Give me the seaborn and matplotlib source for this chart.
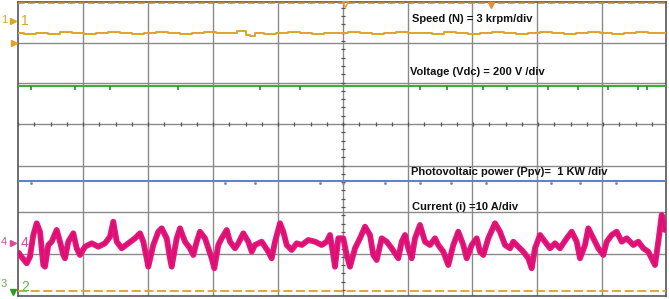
import numpy as np
import pandas as pd
import matplotlib
matplotlib.use("Agg")
import matplotlib.pyplot as plt
import seaborn as sns

# ---- screen readings (x, y in screen pixels of the scope display) ----
grid_x = [18, 83, 148, 213, 278, 343, 408, 472, 537, 602, 666]
grid_y = [2, 43, 83, 124, 166, 212, 254, 296]

speed_x = [18, 30, 42, 54, 66, 78, 90, 102, 114, 126, 138, 150, 162, 174, 186, 198, 210, 222, 234, 240,
           244, 248, 252, 258, 270, 282, 294, 306, 318, 330, 342, 354, 366, 378, 390, 402, 414, 426, 438, 450,
           462, 474, 486, 498, 510, 522, 534, 546, 558, 570, 582, 594, 606, 618, 630, 642, 654, 666]
speed_y = [33, 34, 33, 34, 32, 33, 34, 33, 32, 33, 34, 33, 32, 33, 34, 33, 32, 33, 33, 31,
           31, 35, 36, 33, 34, 33, 32, 33, 34, 33, 33, 32, 33, 34, 33, 32, 33, 33, 34, 32,
           33, 34, 33, 32, 33, 34, 33, 32, 33, 34, 33, 32, 33, 34, 33, 32, 33, 33]

vdc_level = 86
vdc_glitch_x = [31, 75, 110, 178, 260, 300, 420, 447, 483, 507, 548, 578, 608, 638, 647]
ppv_level = 181
ppv_dot_x = [31, 225, 255, 320, 343, 385, 420, 451, 486, 551, 580, 616]

current_x = [19, 20, 26.7, 30, 33.3, 36.7, 40, 43.3, 45, 48.3, 51.7, 56.7, 60, 63.3, 65, 68.3, 73.3, 76.7, 80, 85,
             91.7, 98.3, 105, 110, 113.3, 116.7, 121.7, 128.3, 135, 140, 143.3, 146.7, 148.3, 153.3, 158.3, 161.7,
             166.7, 170, 171.7, 176.7, 180, 185, 190, 193.3, 196.7, 200, 205, 208.3, 211.7, 214.3, 218.3, 221.7,
             226.7, 230, 235, 238.3, 243.3, 248.3, 251.7, 255, 261.7, 268.3, 271.7, 275, 280, 283.3, 286.7, 291.7,
             296.7, 301.7, 308.3, 315, 321.7, 326.7, 330, 333.3, 335, 338.3, 343.3, 346.7, 350, 355, 360, 365, 370,
             373.3, 376.7, 381.7, 386.7, 391.7, 398.3, 401.7, 405, 408.3, 411.7, 415, 420, 425, 430, 435, 438.3,
             443.3, 448.3, 453.3, 458.3, 463.3, 466.7, 471.7, 476.7, 480, 483.3, 488.3, 495, 500, 505, 510, 513.3,
             518.3, 523.3, 528.3, 531.7, 535, 540, 545, 550, 555, 560, 566.7, 571.7, 576.7, 580, 585, 588.3, 593.3,
             598.3, 603.3, 606.7, 611.7, 616.7, 621.7, 626.7, 633.3, 638.3, 643.3, 648.3, 655, 658.3, 661.7, 665]
current_y = [253, 255, 263.3, 256.7, 235, 223.3, 231.7, 265, 266.7, 245, 241.7, 230, 241.7, 255, 258.3, 241.7, 233.3,
             248.3, 255, 246.7, 243.3, 246.7, 243.3, 236.7, 221.7, 241.7, 248.3, 243.3, 238.3, 233.3, 241.7, 258.3,
             266.7, 245, 231.7, 228.3, 238.3, 258.3, 266.7, 238.3, 228.3, 241.7, 248.3, 255, 241.7, 231.7, 238.3,
             248.3, 258.3, 268.3, 245, 238.3, 230, 241.7, 248.3, 243.3, 233.3, 241.7, 251.7, 245, 241.7, 251.7,
             258.3, 241.7, 223.3, 231.7, 245, 250, 243.3, 245, 240, 241.7, 245, 241.7, 235, 255, 266.7, 238.3,
             238.3, 255, 266.7, 248.3, 238.3, 226.7, 235, 255, 260, 238.3, 241.7, 248.3, 258.3, 241.7, 235, 248.3,
             258.3, 238.3, 225, 241.7, 245, 238.3, 245, 251.7, 265, 245, 231.7, 245, 258.3, 245, 238.3, 251.7, 255,
             238.3, 223.3, 231.7, 245, 248.3, 241.7, 246.7, 251.7, 258.3, 268.3, 248.3, 235, 241.7, 248.3, 243.3,
             248.3, 238.3, 231.7, 241.7, 258.3, 245, 228.3, 238.3, 248.3, 255, 241.7, 235, 231.7, 241.7, 238.3, 245,
             241.7, 248.3, 251.7, 265, 241.7, 215, 230]

labels = ["Speed (N) = 3 krpm/div", "Voltage (Vdc) = 200 V /div",
          "Photovoltaic power (Ppv)=  1 KW /div", "Current (i) =10 A/div"]
label_pos = [(412, 19), (410, 72), (411, 172), (412, 207)]

# ---- colours ----
C_SPEED = "#dca42a"
C_VDC = "#39b03a"
C_PPV = "#5b84cc"
C_CUR = "#e5157c"
C_GRID = "#8a8a8a"

sns.set_style("white")
plt.rcParams["font.family"] = ["Liberation Sans", "DejaVu Sans"]

W, H = 669, 299
fig = plt.figure(figsize=(W / 100, H / 100), dpi=100)
ax = fig.add_axes([18 / W, (H - 296) / H, (666 - 18) / W, (296 - 2) / H])
ax.set_xlim(18, 666)
ax.set_ylim(296, 2)
ax.set_xticks([])
ax.set_yticks([])
for s in ax.spines.values():
    s.set_color("#555555")
    s.set_linewidth(1.2)

# grid
for gx in grid_x[1:-1]:
    ax.axvline(gx, color=C_GRID, lw=1.0, zorder=1)
for gy in grid_y[1:-1]:
    ax.axhline(gy, color=C_GRID, lw=1.0, zorder=1)
# centre-line minor ticks
cx, cy = grid_x[5], grid_y[3]
hx = np.arange(18, 666, (grid_x[1] - grid_x[0]) / 4.0)
ax.plot(hx, np.full_like(hx, cy), ls="none", marker="|", ms=3.5, mew=0.9, color="#555555", zorder=2)
vy = np.arange(cy % 8.3, 296, 8.3)
ax.plot(np.full_like(vy, cx), vy, ls="none", marker="_", ms=3, mew=0.9, color="#555555", zorder=2)

# reference dashed lines (top & bottom)
ax.axhline(3, color="#c98f30", lw=1.2, ls=(0, (4, 2)), zorder=3)
ax.axhline(291, color="#d9a030", lw=1.3, ls=(0, (5, 2)), zorder=3)

# traces
sp = pd.DataFrame({"x": speed_x, "y": speed_y})
ax.step(sp["x"], sp["y"], where="mid", color=C_SPEED, lw=1.4, zorder=4)

ax.axhline(vdc_level, color=C_VDC, lw=1.5, zorder=4)
ax.plot(vdc_glitch_x, [vdc_level + 2] * len(vdc_glitch_x), ls="none", marker="|", ms=2.5, mew=1.2,
        color="#2a8a2a", zorder=4)
ax.axhline(ppv_level, color=C_PPV, lw=1.5, zorder=4)
ax.plot(ppv_dot_x, [ppv_level + 1.5] * len(ppv_dot_x), ls="none", marker="s", ms=0.9, color="#6a8ccc", zorder=4)

cur = pd.DataFrame({"x": current_x, "y": current_y})
sns.lineplot(data=cur, x="x", y="y", ax=ax, color=C_CUR, lw=4.2, zorder=5, estimator=None, sort=False)
ax.plot(cur["x"], cur["y"], color="#d80f70", lw=1.2, zorder=5)
ax.set_xlabel("")
ax.set_ylabel("")

# annotation texts
for txt, (tx, ty) in zip(labels, label_pos):
    ax.text(tx, ty, txt, fontsize=8.0, fontweight="bold", color="#111111", va="center", ha="left", zorder=6)

# channel markers
ax.text(21, 21, "1", color=C_SPEED, fontsize=10, va="center", ha="left", clip_on=False, zorder=7)
ax.text(1, 20, "1", color=C_SPEED, fontsize=8, va="center", ha="left", clip_on=False)
ax.plot([13], [21], marker=">", ms=4, color=C_SPEED, clip_on=False, zorder=6)
ax.plot([14], [43], marker=">", ms=4, color="#e8a020", clip_on=False, zorder=6)
ax.text(21, 243, "4", color="#d0509a", fontsize=10, va="center", ha="left", clip_on=False, zorder=7)
ax.text(1, 242, "4", color="#d0509a", fontsize=8, va="center", ha="left", clip_on=False)
ax.plot([13], [243], marker=">", ms=4, color="#d0509a", clip_on=False, zorder=6)
ax.text(21, 287, "2", color="#58b848", fontsize=10, va="center", ha="left", clip_on=False, zorder=7)
ax.text(1, 284, "3", color="#58b848", fontsize=8, va="center", ha="left", clip_on=False)
ax.plot([13], [292], marker="v", ms=4, color="#2a9a2a", clip_on=False, zorder=6)
ax.plot([345], [4], marker="v", ms=4, mfc="none", mec="#e09a30", clip_on=False, zorder=6)
ax.plot([491], [5], marker="v", ms=5, color="#e8902a", clip_on=False, zorder=6)

fig.savefig("out.png", dpi=100)
